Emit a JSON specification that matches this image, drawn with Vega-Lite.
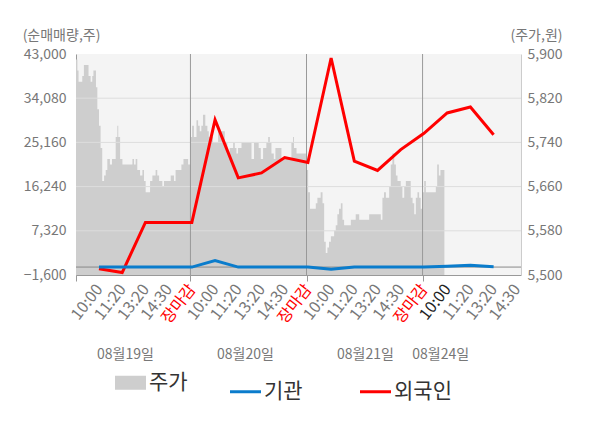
{
  "$schema": "https://vega.github.io/schema/vega-lite/v6.json",
  "description": "Intraday price (area) with institutional and foreign net buying (lines), 08/19 - 08/24.",
  "width": 445,
  "height": 221,
  "autosize": {"type": "none"},
  "padding": {"left": 76, "top": 54, "right": 79, "bottom": 153},
  "background": "white",
  "config": {
    "font": "Noto Sans CJK KR",
    "view": {"fill": "#f4f4f4", "stroke": null},
    "axis": {"labelFont": "Noto Sans CJK KR", "titleFont": "Noto Sans CJK KR"}
  },
  "datasets": {
    "price": [
      {"t": -0.99, "p": 5890}, {"t": -0.93, "p": 5870}, {"t": -0.88, "p": 5850}, {"t": -0.79, "p": 5850},
      {"t": -0.72, "p": 5860}, {"t": -0.65, "p": 5880}, {"t": -0.45, "p": 5860}, {"t": -0.36, "p": 5850},
      {"t": -0.29, "p": 5860}, {"t": -0.24, "p": 5870}, {"t": -0.13, "p": 5840}, {"t": -0.07, "p": 5800},
      {"t": 0.0, "p": 5770}, {"t": 0.07, "p": 5730}, {"t": 0.14, "p": 5670}, {"t": 0.22, "p": 5680},
      {"t": 0.29, "p": 5690}, {"t": 0.36, "p": 5710}, {"t": 0.47, "p": 5700}, {"t": 0.56, "p": 5710},
      {"t": 0.72, "p": 5750}, {"t": 0.79, "p": 5770}, {"t": 0.83, "p": 5750}, {"t": 0.91, "p": 5710},
      {"t": 1.01, "p": 5700}, {"t": 1.08, "p": 5700}, {"t": 1.44, "p": 5710}, {"t": 1.51, "p": 5700},
      {"t": 1.58, "p": 5710}, {"t": 1.65, "p": 5690}, {"t": 1.77, "p": 5680}, {"t": 1.87, "p": 5690},
      {"t": 1.94, "p": 5670}, {"t": 2.01, "p": 5650}, {"t": 2.08, "p": 5650}, {"t": 2.2, "p": 5670},
      {"t": 2.3, "p": 5680}, {"t": 2.37, "p": 5680}, {"t": 2.44, "p": 5690}, {"t": 2.51, "p": 5680},
      {"t": 2.59, "p": 5670}, {"t": 2.73, "p": 5660}, {"t": 2.8, "p": 5670}, {"t": 3.02, "p": 5670},
      {"t": 3.09, "p": 5680}, {"t": 3.16, "p": 5680}, {"t": 3.23, "p": 5670}, {"t": 3.3, "p": 5690},
      {"t": 3.41, "p": 5690}, {"t": 3.55, "p": 5700}, {"t": 3.64, "p": 5710}, {"t": 3.71, "p": 5710},
      {"t": 3.84, "p": 5700},
      {"t": 3.95, "p": 5750}, {"t": 4.01, "p": 5770}, {"t": 4.09, "p": 5750}, {"t": 4.2, "p": 5780},
      {"t": 4.27, "p": 5770}, {"t": 4.34, "p": 5760}, {"t": 4.41, "p": 5770}, {"t": 4.48, "p": 5790},
      {"t": 4.58, "p": 5770}, {"t": 4.67, "p": 5760}, {"t": 4.73, "p": 5750}, {"t": 4.81, "p": 5750},
      {"t": 4.91, "p": 5740}, {"t": 5.13, "p": 5760}, {"t": 5.2, "p": 5760}, {"t": 5.42, "p": 5740},
      {"t": 5.53, "p": 5720}, {"t": 5.63, "p": 5730}, {"t": 5.7, "p": 5730}, {"t": 5.78, "p": 5740},
      {"t": 5.85, "p": 5730}, {"t": 5.92, "p": 5720}, {"t": 5.99, "p": 5730}, {"t": 6.14, "p": 5740},
      {"t": 6.57, "p": 5710}, {"t": 6.68, "p": 5740}, {"t": 6.88, "p": 5730}, {"t": 6.97, "p": 5710},
      {"t": 7.07, "p": 5730}, {"t": 7.14, "p": 5730}, {"t": 7.21, "p": 5740}, {"t": 7.29, "p": 5750},
      {"t": 7.36, "p": 5740}, {"t": 7.43, "p": 5720}, {"t": 7.53, "p": 5710}, {"t": 7.6, "p": 5730},
      {"t": 7.86, "p": 5710}, {"t": 8.29, "p": 5740}, {"t": 8.36, "p": 5750}, {"t": 8.4, "p": 5730},
      {"t": 8.51, "p": 5720}, {"t": 8.58, "p": 5720},
      {"t": 8.95, "p": 5690}, {"t": 9.01, "p": 5650}, {"t": 9.09, "p": 5620}, {"t": 9.34, "p": 5630},
      {"t": 9.41, "p": 5640}, {"t": 9.48, "p": 5640}, {"t": 9.55, "p": 5650}, {"t": 9.63, "p": 5630},
      {"t": 9.7, "p": 5560}, {"t": 9.77, "p": 5540}, {"t": 9.84, "p": 5550}, {"t": 9.91, "p": 5560},
      {"t": 9.99, "p": 5570}, {"t": 10.06, "p": 5570}, {"t": 10.13, "p": 5580}, {"t": 10.2, "p": 5590},
      {"t": 10.27, "p": 5610}, {"t": 10.34, "p": 5620}, {"t": 10.42, "p": 5630}, {"t": 10.49, "p": 5600},
      {"t": 10.56, "p": 5590}, {"t": 10.85, "p": 5600}, {"t": 10.92, "p": 5600}, {"t": 10.99, "p": 5600},
      {"t": 11.06, "p": 5610}, {"t": 11.14, "p": 5610}, {"t": 11.21, "p": 5600}, {"t": 11.28, "p": 5600},
      {"t": 11.64, "p": 5610}, {"t": 12.14, "p": 5600}, {"t": 12.21, "p": 5640}, {"t": 12.28, "p": 5650},
      {"t": 12.36, "p": 5640}, {"t": 12.43, "p": 5640}, {"t": 12.5, "p": 5660}, {"t": 12.57, "p": 5700},
      {"t": 12.64, "p": 5720}, {"t": 12.72, "p": 5700}, {"t": 12.79, "p": 5680}, {"t": 12.86, "p": 5670},
      {"t": 13.0, "p": 5660}, {"t": 13.07, "p": 5640}, {"t": 13.15, "p": 5660}, {"t": 13.22, "p": 5670},
      {"t": 13.43, "p": 5640}, {"t": 13.51, "p": 5630}, {"t": 13.58, "p": 5610}, {"t": 13.65, "p": 5640},
      {"t": 13.72, "p": 5650}, {"t": 13.79, "p": 5640}, {"t": 13.86, "p": 5620},
      {"t": 13.94, "p": 5650}, {"t": 14.01, "p": 5670}, {"t": 14.08, "p": 5650}, {"t": 14.15, "p": 5650},
      {"t": 14.22, "p": 5650}, {"t": 14.3, "p": 5650}, {"t": 14.44, "p": 5650}, {"t": 14.51, "p": 5660},
      {"t": 14.57, "p": 5700}, {"t": 14.64, "p": 5680}, {"t": 14.71, "p": 5690}, {"t": 14.78, "p": 5690},
      {"t": 14.88, "p": 5690}
    ],
    "flow": [
      {"i": 0, "series": "외국인", "v": -350}, {"i": 1, "series": "외국인", "v": -1100},
      {"i": 2, "series": "외국인", "v": 9000}, {"i": 3, "series": "외국인", "v": 9000},
      {"i": 4, "series": "외국인", "v": 9000}, {"i": 5, "series": "외국인", "v": 29700},
      {"i": 6, "series": "외국인", "v": 18000}, {"i": 7, "series": "외국인", "v": 19000},
      {"i": 8, "series": "외국인", "v": 22100}, {"i": 9, "series": "외국인", "v": 21100},
      {"i": 10, "series": "외국인", "v": 42200}, {"i": 11, "series": "외국인", "v": 21400},
      {"i": 12, "series": "외국인", "v": 19500}, {"i": 13, "series": "외국인", "v": 23700},
      {"i": 14, "series": "외국인", "v": 27000}, {"i": 15, "series": "외국인", "v": 31100},
      {"i": 16, "series": "외국인", "v": 32300}, {"i": 17, "series": "외국인", "v": 26700},
      {"i": 0, "series": "기관", "v": 0}, {"i": 1, "series": "기관", "v": 0},
      {"i": 2, "series": "기관", "v": 0}, {"i": 3, "series": "기관", "v": 0},
      {"i": 4, "series": "기관", "v": 0}, {"i": 5, "series": "기관", "v": 1300},
      {"i": 6, "series": "기관", "v": 0}, {"i": 7, "series": "기관", "v": 0},
      {"i": 8, "series": "기관", "v": 0}, {"i": 9, "series": "기관", "v": 0},
      {"i": 10, "series": "기관", "v": -450}, {"i": 11, "series": "기관", "v": 0},
      {"i": 12, "series": "기관", "v": 0}, {"i": 13, "series": "기관", "v": 0},
      {"i": 14, "series": "기관", "v": 0}, {"i": 15, "series": "기관", "v": 150},
      {"i": 16, "series": "기관", "v": 350}, {"i": 17, "series": "기관", "v": 50}
    ],
    "grid": [{"v": 7320}, {"v": 16240}, {"v": 25160}, {"v": 34080}],
    "zero": [{"v": 0}],
    "days": [{"t": 3.94}, {"t": 8.94}, {"t": 13.94}]
  },
  "layer": [
    {
      "data": {"name": "price"},
      "mark": {"type": "area", "interpolate": "step-after", "color": "#cecece", "opacity": 1},
      "encoding": {
        "x": {
          "field": "t",
          "type": "quantitative",
          "scale": {"domain": [-0.99, 18.18], "nice": false, "zero": false},
          "axis": {
            "orient": "bottom",
            "title": null,
            "values": [-0.99, 0, 1, 2, 3, 3.94, 4, 5, 6, 7, 8, 8.94, 9, 10, 11, 12, 13, 13.94, 14, 15, 16, 17, 18],
            "labelExpr": "datum.value < 0 || datum.value % 1 != 0 ? '' : ['10:00', '11:20', '13:20', '14:30', '장마감'][datum.value % 5]",
            "labelAngle": -52,
            "labelAlign": "right",
            "labelBaseline": "middle",
            "labelPadding": 5,
            "labelOverlap": false,
            "labelFlush": false,
            "labelBound": false,
            "labelColor": {
              "condition": [
                {"test": "datum.value == 15", "value": "#222222"},
                {"test": "datum.value % 5 == 4", "value": "#ff0000"}
              ],
              "value": "#777777"
            },
            "labelFontSize": 16,
            "grid": false,
            "domainColor": "#999999",
            "tickColor": "#999999",
            "tickSize": 6,
            "tickOpacity": {"condition": {"test": "datum.value % 1 != 0", "value": 1}, "value": 0}
          }
        },
        "y": {
          "field": "p",
          "type": "quantitative",
          "scale": {"domain": [5500, 5900], "nice": false, "zero": false},
          "axis": {
            "orient": "right",
            "values": [5500, 5580, 5660, 5740, 5820, 5900],
            "format": ",d",
            "labelColor": "#777777",
            "labelFontSize": 14,
            "labelPadding": 6,
            "ticks": false,
            "grid": false,
            "domainColor": "#cccccc",
            "title": "(주가,원)",
            "titleAngle": 0,
            "titleAlign": "center",
            "titleBaseline": "middle",
            "titleX": 15,
            "titleY": -19,
            "titleFontSize": 14,
            "titleFontWeight": "normal",
            "titleColor": "#777777"
          }
        },
        "y2": {"datum": 5500}
      }
    },
    {
      "data": {"name": "grid"},
      "mark": {"type": "rule", "color": "#dddddd", "strokeWidth": 1},
      "encoding": {
        "y": {"field": "v", "type": "quantitative", "scale": {"domain": [-1600, 43000], "nice": false, "zero": false}, "axis": null}
      }
    },
    {
      "data": {"name": "zero"},
      "mark": {"type": "rule", "color": "#888888", "strokeWidth": 1},
      "encoding": {
        "y": {"field": "v", "type": "quantitative", "scale": {"domain": [-1600, 43000], "nice": false, "zero": false}, "axis": null}
      }
    },
    {
      "data": {"name": "days"},
      "mark": {"type": "rule", "color": "#999999", "strokeWidth": 1},
      "encoding": {
        "x": {"field": "t", "type": "quantitative", "scale": {"domain": [-0.99, 18.18], "nice": false, "zero": false}, "axis": null}
      }
    },
    {
      "data": {"name": "flow"},
      "mark": {"type": "line", "strokeWidth": 3},
      "encoding": {
        "x": {
          "field": "i",
          "type": "quantitative",
          "scale": {"domain": [-0.99, 18.18], "nice": false, "zero": false},
          "axis": {
            "orient": "bottom",
            "title": null,
            "values": [1.12, 6.29, 11.46, 14.7],
            "labelExpr": "datum.value < 3 ? '08월19일' : datum.value < 8 ? '08월20일' : datum.value < 13 ? '08월21일' : '08월24일'",
            "labelAngle": 0,
            "labelAlign": "center",
            "labelBaseline": "middle",
            "labelPadding": 79,
            "labelOverlap": false,
            "labelFlush": false,
            "labelColor": "#777777",
            "labelFontSize": 14,
            "domain": false,
            "ticks": false,
            "grid": false
          }
        },
        "y": {
          "field": "v",
          "type": "quantitative",
          "scale": {"domain": [-1600, 43000], "nice": false, "zero": false},
          "axis": {
            "orient": "left",
            "values": [-1600, 7320, 16240, 25160, 34080, 43000],
            "format": ",d",
            "labelColor": "#777777",
            "labelFontSize": 14,
            "labelPadding": 10,
            "ticks": false,
            "grid": false,
            "domainColor": "#999999",
            "title": "(순매매량,주)",
            "titleAngle": 0,
            "titleAlign": "center",
            "titleBaseline": "middle",
            "titleX": -15,
            "titleY": -19,
            "titleFontSize": 14,
            "titleFontWeight": "normal",
            "titleColor": "#777777"
          }
        },
        "color": {
          "field": "series",
          "type": "nominal",
          "scale": {"domain": ["주가", "기관", "외국인"], "range": ["#cecece", "#0a7ccc", "#ff0000"]},
          "legend": {
            "orient": "none",
            "legendX": 44,
            "legendY": 318,
            "direction": "horizontal",
            "title": null,
            "symbolType": "stroke",
            "symbolSize": 961,
            "symbolStrokeWidth": 3,
            "labelFontSize": 21,
            "labelColor": "#333333",
            "labelOffset": 8,
            "labelExpr": "datum.label == '기관' ? '기관\u2800' : datum.label",
            "columnPadding": 36,
            "encode": {
              "symbols": {"update": {"strokeWidth": {"signal": "datum.value === '주가' ? 14 : 3"}}}
            }
          }
        }
      }
    }
  ],
  "resolve": {"scale": {"y": "independent"}, "axis": {"x": "independent"}}
}
